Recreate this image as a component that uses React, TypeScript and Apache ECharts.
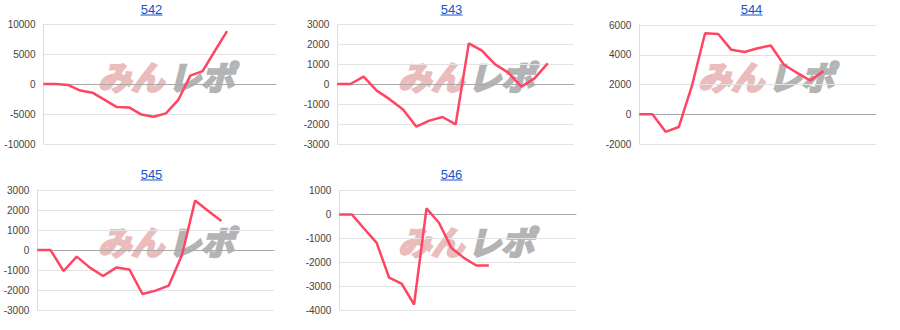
import React, { useEffect, useRef } from "react";
import * as echarts from "echarts";

// ---- data ----
const titles = ["542", "543", "544", "545", "546"];
const s542 = [0, 0, -150, -1100, -1450, -2650, -3850, -3900, -5100, -5450, -4900, -2700, 1400, 2150, 5500, 8800];
const s543 = [0, 0, 370, -330, -770, -1270, -2130, -1830, -1650, -2020, 2030, 1670, 980, 570, -130, 280, 1030];
const s544 = [0, 0, -1180, -860, 1900, 5450, 5400, 4330, 4180, 4440, 4620, 3330, 2780, 2270, 2900];
const s545 = [0, 0, -1050, -330, -880, -1300, -880, -970, -2200, -2030, -1780, -250, 2470, 1950, 1450];
const s546 = [0, 0, -600, -1190, -2650, -2900, -3770, 250, -350, -1400, -1820, -2140, -2140];
const seriesList = [s542, s543, s544, s545, s546];
const yMins = [-10000, -3000, -2000, -3000, -4000];
const yMaxs = [10000, 3000, 6000, 3000, 1000];
const yIntervals = [5000, 1000, 2000, 1000, 1000];
const xMaxs = [19, 18, 18, 18, 19];

// ---- layout ----
const cells = [
  { x: 0, y: 0 },
  { x: 300, y: 0 },
  { x: 600, y: 0 },
  { x: 0, y: 165 },
  { x: 300, y: 165 },
];
const grids = [
  { left: 43.5, top: 24, width: 232.5, height: 120 },
  { left: 337.3, top: 24, width: 236.7, height: 120 },
  { left: 639.3, top: 25, width: 236.7, height: 119 },
  { left: 37.3, top: 190, width: 236.7, height: 120 },
  { left: 339.3, top: 190.5, width: 236.7, height: 119.5 },
];

const LINE = "#ff4563";
const FONT = "'Liberation Sans', Arial, sans-serif";

export default function App() {
  const ref = useRef<HTMLDivElement>(null);
  useEffect(() => {
    if (!ref.current) return;
    const chart = echarts.init(ref.current, null, { renderer: "svg" });
    const graphic: any[] = [];
    cells.forEach((c, i) => {
      const tx = c.x + 151.5;
      const ty = c.y + 9.5;
      graphic.push({
        type: "text",
        x: tx,
        y: ty,
        style: {
          text: titles[i],
          fill: "#1155cc",
          font: `13px ${FONT}`,
          textAlign: "center",
          textVerticalAlign: "middle",
        },
      });
      graphic.push({
        type: "line",
        shape: { x1: tx - 11, y1: ty + 5.5, x2: tx + 11, y2: ty + 5.5 },
        style: { stroke: "#1155cc", lineWidth: 1 },
      });
      const wx = c.x + 166;
      const wy = c.y + 76;
      graphic.push({
        type: "text",
        x: wx - 2,
        y: wy,
        z: -1,
        style: {
          text: "みん",
          fill: "#ebbcbc",
          stroke: "#ebbcbc",
          lineWidth: 2.5,
          font: `italic bold 33px 'Noto Sans CJK JP'`,
          textAlign: "right",
          textVerticalAlign: "middle",
        },
      });
      graphic.push({
        type: "text",
        x: wx + 2,
        y: wy,
        z: -1,
        style: {
          text: "レポ",
          fill: "#b4b4b4",
          stroke: "#b4b4b4",
          lineWidth: 2.5,
          font: `italic bold 33px 'Noto Sans CJK JP'`,
          textAlign: "left",
          textVerticalAlign: "middle",
        },
      });
    });

    const option: any = {
      animation: false,
      grid: grids.map((g) => ({ ...g, containLabel: false })),
      xAxis: seriesList.map((_, i) => ({
        type: "value",
        gridIndex: i,
        min: 0,
        max: xMaxs[i],
        axisLine: { show: true, onZero: true, lineStyle: { color: "#a9a9a9", width: 1 } },
        axisTick: { show: false },
        axisLabel: { show: false },
        splitLine: { show: false },
      })),
      yAxis: seriesList.map((_, i) => ({
        type: "value",
        gridIndex: i,
        min: yMins[i],
        max: yMaxs[i],
        interval: yIntervals[i],
        axisLine: { show: true, onZero: false, lineStyle: { color: "#dddddd", width: 1 } },
        axisTick: { show: false },
        axisLabel: {
          color: "#444",
          fontSize: 10,
          fontFamily: FONT,
          margin: 8,
          formatter: (v: number) => String(v),
        },
        splitLine: { show: true, lineStyle: { color: "#e3e3e3", width: 1 } },
      })),
      series: seriesList.map((s, i) => ({
        type: "line",
        xAxisIndex: i,
        yAxisIndex: i,
        data: s.map((v, k) => [k, v]),
        showSymbol: false,
        symbol: "none",
        z: 5,
        lineStyle: { color: LINE, width: 2.5 },
      })),
      graphic,
    };
    chart.setOption(option);
    return () => chart.dispose();
  }, []);
  return (
    <div
      ref={ref}
      style={{ position: "fixed", left: 0, top: 0, width: 900, height: 330, background: "#fff" }}
    />
  );
}
